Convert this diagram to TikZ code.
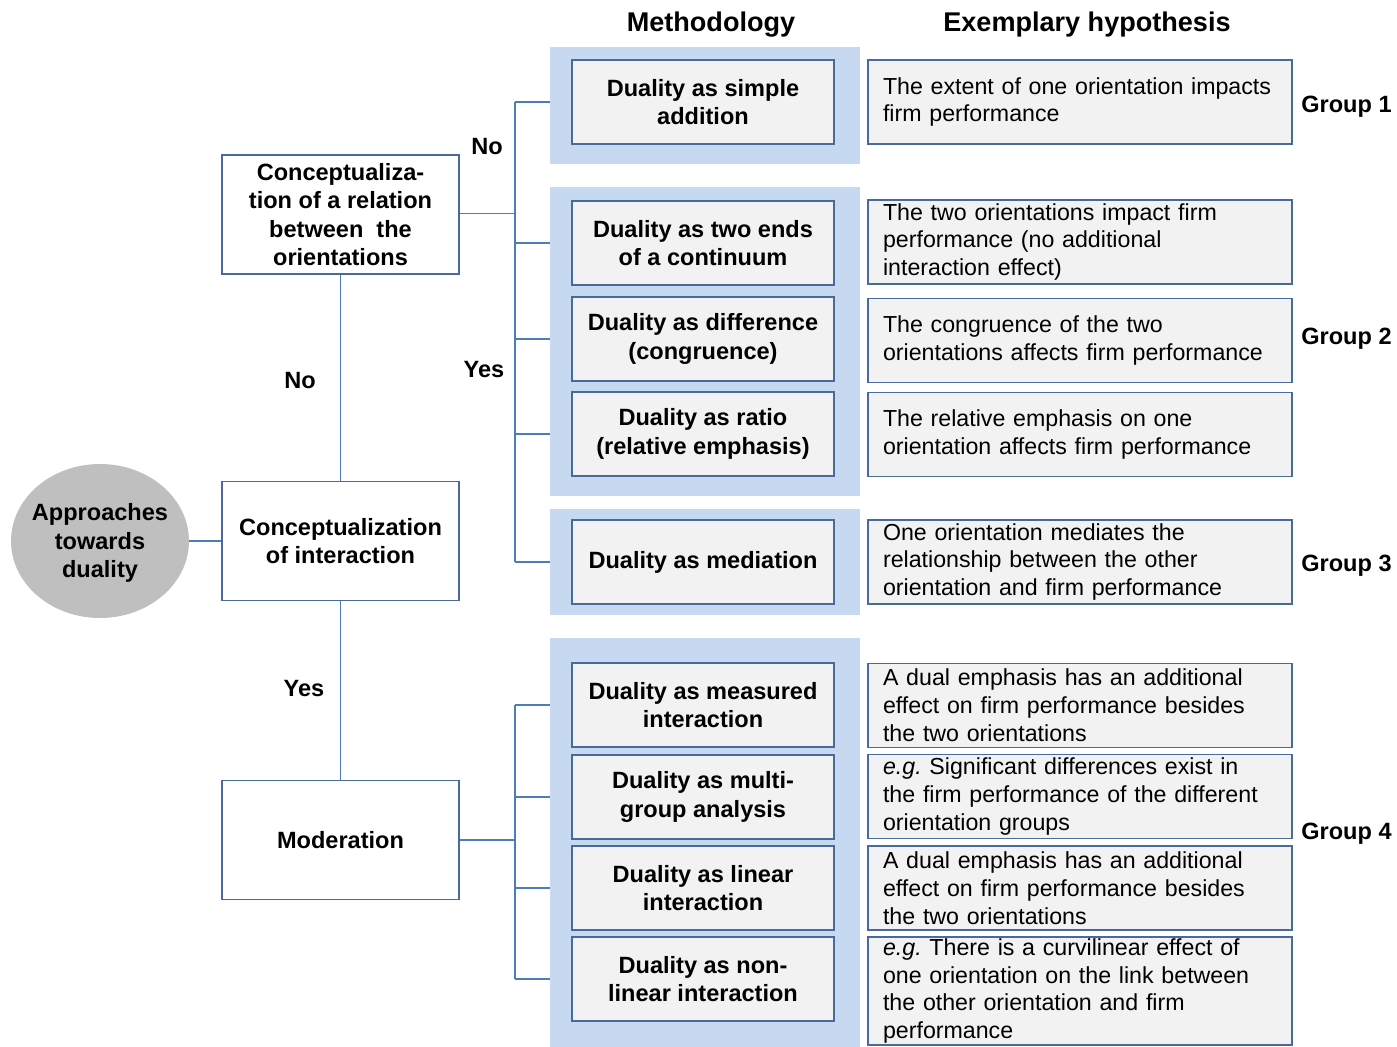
\documentclass[tikz,border=0pt]{standalone}
\usepackage{fontspec}
\setmainfont{Liberation Sans}
\usetikzlibrary{shapes.geometric}
\definecolor{panelblue}{HTML}{C6D9F1}
\definecolor{boxgray}{HTML}{F2F2F2}
\definecolor{boxedge}{HTML}{4A6A9C}
\definecolor{linkblue}{HTML}{4A7EBB}
\definecolor{ellgray}{HTML}{BFBFBF}

\begin{document}
\begin{tikzpicture}[x=0.02cm,y=-0.02cm,
    txt/.style={font=\fontsize{13.2}{15.9}\selectfont},
    bold/.style={font=\fontsize{13.4}{16.2}\selectfont\bfseries},
    panel/.style={fill=panelblue, minimum width=6.2cm, inner sep=0pt},
    method/.style={bold, draw=boxedge, line width=1.1pt, fill=boxgray, minimum width=5.24cm, minimum height=1.68cm, align=center, inner sep=0pt},
    hypo/.style={txt, draw=boxedge, line width=1.1pt, fill=boxgray, text width=7.88cm, inner xsep=0.3cm, inner ysep=0pt, minimum height=1.68cm, align=left},
    concept/.style={bold, draw=boxedge, line width=1pt, fill=white, minimum width=4.74cm, minimum height=2.38cm, align=center, inner sep=0pt},
    link/.style={draw=linkblue, line width=0.8pt},
    lbl/.style={bold, inner sep=0pt}]
    \useasboundingbox (0,0) rectangle (1397,1047);

    \node[panel, minimum height=2.34cm] (p1) at (705,105.5) {};
    \node[panel, minimum height=6.18cm] (p2) at (705,341.5) {};
    \node[panel, minimum height=2.12cm] (p3) at (705,562) {};
    \node[panel, minimum height=8.18cm] (p4) at (705,842.5) {};

    \node[lbl, font=\fontsize{15.4}{18}\selectfont\bfseries] (hmeth) at (711,25) {Methodology};
    \node[lbl, font=\fontsize{15.4}{18}\selectfont\bfseries] (hhyp) at (1087,25) {Exemplary hypothesis};

    \node[method] (m1) at (703,102) {Duality as simple\\addition};
    \node[method] (m2) at (703,243) {Duality as two ends\\of a continuum};
    \node[method] (m3) at (703,339) {Duality as difference\\(congruence)};
    \node[method] (m4) at (703,434) {Duality as ratio\\(relative emphasis)};
    \node[method] (m5) at (703,562) {Duality as mediation};
    \node[method] (m6) at (703,705) {Duality as measured\\interaction};
    \node[method] (m7) at (703,797) {Duality as multi-\\group analysis};
    \node[method] (m8) at (703,888) {Duality as linear\\interaction};
    \node[method] (m9) at (703,979) {Duality as non-\\linear interaction};

    \node[hypo] (h1) at (1080,102) {The extent of one orientation impacts\\firm performance};
    \node[hypo] (h2) at (1080,242) {The two orientations impact firm\\performance (no additional\\interaction effect)};
    \node[hypo] (h3) at (1080,340.5) {The congruence of the two\\orientations affects firm performance};
    \node[hypo] (h4) at (1080,434.5) {The relative emphasis on one\\orientation affects firm performance};
    \node[hypo] (h5) at (1080,562) {One orientation mediates the\\relationship between the other\\orientation and firm performance};
    \node[hypo] (h6) at (1080,705.5) {A dual emphasis has an additional\\effect on firm performance besides\\the two orientations};
    \node[hypo] (h7) at (1080,796.5) {{\itshape e.g.}\ Significant differences exist in\\the firm performance of the different\\orientation groups};
    \node[hypo] (h8) at (1080,888) {A dual emphasis has an additional\\effect on firm performance besides\\the two orientations};
    \node[hypo, minimum height=2.16cm] (h9) at (1080,991) {{\itshape e.g.}\ There is a curvilinear effect of\\one orientation on the link between\\the other orientation and firm\\performance};

    \node[lbl, anchor=west] (g1) at (1301,107) {Group 1};
    \node[lbl, anchor=west] (g2) at (1301,339) {Group 2};
    \node[lbl, anchor=west] (g3) at (1301,566) {Group 3};
    \node[lbl, anchor=west] (g4) at (1301,834) {Group 4};

    \node[ellipse, fill=ellgray, inner sep=0pt, minimum width=3.56cm, minimum height=3.08cm,
        label={[bold, align=center, yshift=-0.04cm]center:Approaches\\towards\\duality}] (appr) at (100,541) {};
    \node[concept] (c1) at (340.5,214.5) {Conceptualiza-\\tion of a relation\\between\ \ the\\orientations};
    \node[concept] (c2) at (340.5,541) {Conceptualization\\of interaction};
    \node[concept] (c3) at (340.5,840) {Moderation};

    \coordinate (j1) at (515,213.5);
    \coordinate (j2) at (515,840);

    \draw[link] (appr.east) -- (c2.west);
    \draw[link] (c2) -- (c1);
    \draw[link] (c2) -- (c3);
    \draw[link] (c1.east |- j1) -- (j1);
    \draw[link] (c3.east) -- (j2);
    \draw[link] (j1 |- m1) -- (j1 |- m5);
    \draw[link] (j2 |- m6) -- (j2 |- m9);
    \foreach \m in {m1,m2,m3,m4,m5}
        \draw[link] (j1 |- \m) -- (\m -| p1.west);
    \foreach \m in {m6,m7,m8,m9}
        \draw[link] (j2 |- \m) -- (\m -| p1.west);

    \node[lbl] (no1) at (487,147) {No};
    \node[lbl] (yes1) at (484,370) {Yes};
    \node[lbl] (no2) at (300,381) {No};
    \node[lbl] (yes2) at (304,689) {Yes};
\end{tikzpicture}
\end{document}
